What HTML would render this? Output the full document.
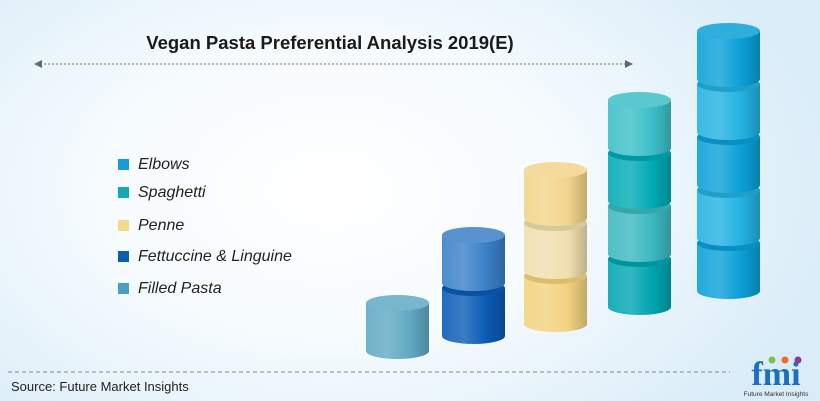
<!DOCTYPE html>
<html><head><meta charset="utf-8"><style>
body{margin:0;width:820px;height:401px;overflow:hidden;font-family:"Liberation Sans",sans-serif}
#wrap{position:relative;width:820px;height:401px;background:radial-gradient(ellipse 520px 330px at 330px 190px,#ffffff 0%,#f6fbfe 45%,#d9ecf8 100%)}
.leg{position:absolute;left:118px;font-style:italic;font-size:16px;color:#222}
.leg span{display:inline-block;width:11px;height:11px;margin-right:9px;vertical-align:-1px}
</style></head><body>
<div id="wrap">
<div style="position:absolute;left:0;width:660px;top:32px;text-align:center;font-weight:bold;font-size:18.5px;color:#1a1a1a">Vegan Pasta Preferential Analysis 2019(E)</div>
<div class="leg" style="top:156px"><span style="background:#1a9ad6"></span>Elbows</div>
<div class="leg" style="top:184px"><span style="background:#12aab2"></span>Spaghetti</div>
<div class="leg" style="top:217px"><span style="background:#f5d98a"></span>Penne</div>
<div class="leg" style="top:248px"><span style="background:#0b5fb0"></span>Fettuccine &amp; Linguine</div>
<div class="leg" style="top:280px"><span style="background:#4a9ebf"></span>Filled Pasta</div>
<div style="position:absolute;left:11px;top:379px;font-size:13px;color:#222">Source: Future Market Insights</div>
<svg id="svg" width="820" height="401" style="position:absolute;left:0;top:0">
<defs></defs>
<line x1="40" y1="64" x2="626" y2="64" stroke="#777" stroke-dasharray="2,2"/>
<polygon points="34,64 42,60 42,68" fill="#666"/>
<polygon points="633,64 625,60 625,68" fill="#666"/>
<line x1="8" y1="372" x2="730" y2="372" stroke="#888" stroke-dasharray="4,3"/>
<g id="bars"></g>
<g>
<text x="776" y="385" text-anchor="middle" font-family="Liberation Serif,serif" font-weight="bold" font-size="34" fill="#1a6fc0">fmi</text>
<circle cx="772" cy="360" r="3.5" fill="#7cc04a"/><circle cx="785" cy="360" r="3.5" fill="#f06a2a"/><circle cx="798" cy="360" r="3.5" fill="#8a3a9a"/>
<text x="776" y="396" text-anchor="middle" font-size="6.5" fill="#333">Future Market Insights</text>
</g>
</svg>
</div>
<script>
const categories=["Filled Pasta","Fettuccine & Linguine","Penne","Spaghetti","Elbows"];
const segments=[1,2,3,4,5];
const baseY=[351,336,324,307,291];
const colX=[366,442,524,608,697];
const palettes=[["#5fa9c3"],["#0a5bb5","#3a80c8"],["#f3d27e","#efdfae","#f2d48a"],["#00a5b0","#3cb8c0","#00aab5","#3cbfc7"],["#0aa0d8","#22b2e2","#0aa0d8","#22b2e2","#0aa0d8"]];
const W=63,SEG=53,RY=8;
const svg=document.getElementById('svg'),defs=svg.querySelector('defs'),g=document.getElementById('bars');
const NS='http://www.w3.org/2000/svg';
function shade(hex,f){let n=parseInt(hex.slice(1),16),r=n>>16,gg=(n>>8)&255,b=n&255;const c=v=>Math.max(0,Math.min(255,Math.round(f<0?v*(1+f):v+(255-v)*f)));return 'rgb('+c(r)+','+c(gg)+','+c(b)+')';}
let gid=0;
categories.forEach((cat,i)=>{
  const x=colX[i];
  for(let s=0;s<segments[i];s++){
    const col=palettes[i][s%palettes[i].length];
    const yb=baseY[i]-s*SEG, yt=yb-SEG+5;
    const id='gr'+(gid++);
    const lg=document.createElementNS(NS,'linearGradient');lg.setAttribute('id',id);
    [[0,shade(col,0.1)],[0.35,shade(col,0.2)],[0.7,col],[1,shade(col,-0.2)]].forEach(([o,c])=>{const st=document.createElementNS(NS,'stop');st.setAttribute('offset',o);st.setAttribute('stop-color',c);lg.appendChild(st);});
    defs.appendChild(lg);
    const p=document.createElementNS(NS,'path');
    p.setAttribute('d',`M${x},${yt} L${x},${yb} A${W/2},${RY} 0 0 0 ${x+W},${yb} L${x+W},${yt} Z`);
    p.setAttribute('fill','url(#'+id+')');
    
    
    g.appendChild(p);
    const e=document.createElementNS(NS,'ellipse');
    e.setAttribute('cx',x+W/2);e.setAttribute('cy',yt);e.setAttribute('rx',W/2);e.setAttribute('ry',RY);
    e.setAttribute('fill',shade(col,s===segments[i]-1?0.15:-0.1));
    
    
    g.appendChild(e);
  }
});
</script>
</body></html>
